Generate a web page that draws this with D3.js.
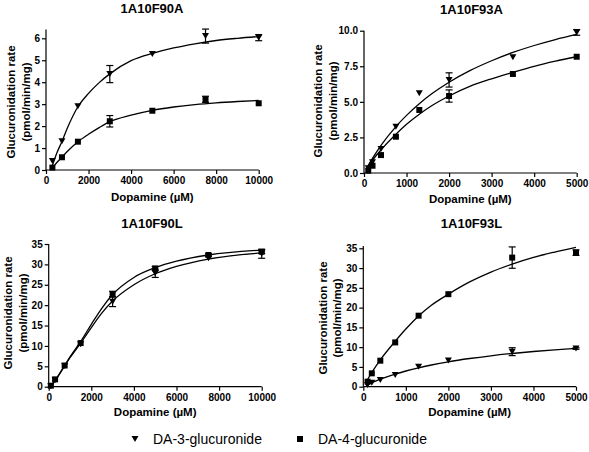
<!DOCTYPE html>
<html><head><meta charset="utf-8">
<script src="https://cdn.jsdelivr.net/npm/d3@7"></script>
<style>
body{margin:0;background:#fff;}
svg{display:block;font-family:"Liberation Sans",Arial,sans-serif;}
.tick text{font-weight:bold;font-size:10px;fill:#000;}
</style></head><body>
<svg id="chart" width="589" height="452"></svg>
<script>
// ---------------- DATA ----------------
const titles = ["1A10F90A", "1A10F93A", "1A10F90L", "1A10F93L"];
const seriesNames = ["DA-3-glucuronide", "DA-4-glucuronide"];
const xAxisTitle = "Dopamine (\u00b5M)";
const yAxisTitle1 = "Glucuronidation rate";
const yAxisTitle2 = "(pmol/min/mg)";

// Panel 1: 1A10F90A
const p1Conc = [300, 750, 1500, 3000, 5000, 7500, 10000];
const p1DA3 = [0.41, 1.31, 2.9, 4.37, 5.28, 6.1, 6.03];
const p1DA3Err = [0, 0, 0, 0.39, 0, 0.32, 0.14];
const p1DA4 = [0.11, 0.58, 1.29, 2.22, 2.7, 3.22, 3.04];
const p1DA4Err = [0, 0, 0, 0.26, 0, 0.14, 0];
const p1CurveX = [300, 500, 750, 1000, 1500, 2000, 2500, 3000, 4000, 5000, 6000, 7000, 8000, 9000, 10000];
const p1CurveDA3 = [0.2, 0.75, 1.3, 1.9, 2.88, 3.49, 3.98, 4.38, 4.98, 5.31, 5.56, 5.75, 5.9, 6.0, 6.08];
const p1CurveDA4 = [0.08, 0.33, 0.58, 0.84, 1.29, 1.63, 1.93, 2.2, 2.5, 2.72, 2.87, 2.98, 3.06, 3.12, 3.17];
const p1YTicks = [0, 1, 2, 3, 4, 5, 6];
const p1XTicks = [0, 2000, 4000, 6000, 8000, 10000];

// Panel 2: 1A10F93A
const p2Conc = [100, 200, 400, 750, 1300, 2000, 3500, 5000];
const p2DA3 = [0.33, 0.75, 1.69, 3.25, 5.6, 6.54, 8.13, 9.88];
const p2DA3Err = [0, 0, 0, 0, 0, 0.5, 0, 0.2];
const p2DA4 = [0.16, 0.51, 1.26, 2.55, 4.43, 5.41, 6.96, 8.17];
const p2DA4Err = [0, 0, 0, 0, 0, 0.43, 0, 0];
const p2CurveX = [50, 100, 200, 400, 750, 1000, 1300, 1600, 2000, 2500, 3000, 3500, 4000, 4500, 5000];
const p2CurveDA3 = [0.27, 0.54, 1.03, 1.94, 3.26, 4.05, 4.87, 5.58, 6.38, 7.21, 7.89, 8.47, 8.96, 9.38, 9.74];
const p2CurveDA4 = [0.24, 0.46, 0.89, 1.62, 2.72, 3.42, 4.13, 4.74, 5.41, 6.1, 6.62, 7.07, 7.5, 7.86, 8.17];
const p2YTicks = [0, 2.5, 5, 7.5, 10];
const p2XTicks = [0, 1000, 2000, 3000, 4000, 5000];

// Panel 3: 1A10F90L
const p3Conc = [100, 300, 750, 1500, 3000, 5000, 7500, 10000];
const p3DA3 = [0.1, 1.6, 5.1, 10.4, 20.85, 27.8, 31.5, 32.6];
const p3DA3Err = [0, 0, 0, 0, 1.2, 1.0, 0, 1.1];
const p3DA4 = [0.25, 1.8, 5.2, 10.7, 22.7, 29.0, 32.3, 33.1];
const p3DA4Err = [0, 0, 0, 0, 0.7, 0.5, 0.3, 0.4];
const p3CurveX = [100, 300, 750, 1000, 1500, 2000, 2500, 3000, 4000, 5000, 6000, 7500, 10000];
const p3CurveDA3 = [0.2, 1.5, 5.1, 7.1, 10.7, 14.5, 18.1, 21.0, 25.0, 27.7, 29.5, 31.3, 32.8];
const p3CurveDA4 = [0.2, 1.5, 5.2, 7.3, 11.1, 15.3, 19.3, 22.6, 26.8, 29.2, 30.8, 32.3, 33.5];
const p3YTicks = [0, 5, 10, 15, 20, 25, 30, 35];
const p3XTicks = [0, 2000, 4000, 6000, 8000, 10000];

// Panel 4: 1A10F93L
const p4Conc = [100, 200, 400, 750, 1300, 2000, 3500, 5000];
const p4DA3 = [0.43, 1.0, 1.7, 2.96, 5.06, 6.6, 8.86, 9.65];
const p4DA3Err = [0, 0, 0, 0, 0, 0, 1.0, 0.2];
const p4DA4 = [1.27, 3.38, 6.58, 11.2, 17.96, 23.4, 32.65, 33.9];
const p4DA4Err = [0, 0, 0, 0, 0, 0, 2.7, 0.7];
const p4CurveX = [60, 100, 200, 400, 750, 1000, 1300, 1600, 2000, 2500, 3000, 3500, 4000, 4500, 5000];
const p4CurveDA3 = [0.32, 0.52, 1.0, 1.89, 3.19, 3.97, 4.79, 5.49, 6.3, 7.13, 7.82, 8.4, 8.9, 9.33, 9.7];
const p4CurveDA4 = [1.0, 1.8, 3.6, 6.8, 11.5, 14.6, 17.9, 20.6, 23.4, 26.5, 29.0, 31.0, 32.7, 34.05, 35.25];
const p4YTicks = [0, 5, 10, 15, 20, 25, 30, 35];
const p4XTicks = [0, 1000, 2000, 3000, 4000, 5000];

// ---------------- LAYOUT ----------------
const panels = [
  {title: titles[0], conc: p1Conc, s: [[p1DA3, p1DA3Err], [p1DA4, p1DA4Err]], cx: p1CurveX, cy: [p1CurveDA3, p1CurveDA4],
   yT: p1YTicks, xT: p1XTicks, yFmt: d3.format("d"), xMax: 10000, yMax: 6, yTop: 6.4,
   x0: 46, x1: 258.7, y0: 170, y1: 38.3, titleX: 152, titleY: 13, xlabY: 201, ylab1: 15, ylab2: 30, ylabY: 102},
  {title: titles[1], conc: p2Conc, s: [[p2DA3, p2DA3Err], [p2DA4, p2DA4Err]], cx: p2CurveX, cy: [p2CurveDA3, p2CurveDA4],
   yT: p2YTicks, xT: p2XTicks, yFmt: d3.format(".1f"), xMax: 5000, yMax: 10, yTop: 10,
   x0: 364, x1: 576.7, y0: 173, y1: 30.7, titleX: 471.5, titleY: 14, xlabY: 203, ylab1: 322, ylab2: 337, ylabY: 101},
  {title: titles[2], conc: p3Conc, s: [[p3DA3, p3DA3Err], [p3DA4, p3DA4Err]], cx: p3CurveX, cy: [p3CurveDA3, p3CurveDA4],
   yT: p3YTicks, xT: p3XTicks, yFmt: d3.format("d"), xMax: 10000, yMax: 35, yTop: 35,
   x0: 48.7, x1: 261.7, y0: 386.7, y1: 244, titleX: 152, titleY: 228, xlabY: 416, ylab1: 12, ylab2: 27, ylabY: 313},
  {title: titles[3], conc: p4Conc, s: [[p4DA3, p4DA3Err], [p4DA4, p4DA4Err]], cx: p4CurveX, cy: [p4CurveDA3, p4CurveDA4],
   yT: p4YTicks, xT: p4XTicks, yFmt: d3.format("d"), xMax: 5000, yMax: 35, yTop: 35.6,
   x0: 363.3, x1: 576, y0: 386.7, y1: 248.3, titleX: 471.5, titleY: 228, xlabY: 416, ylab1: 327, ylab2: 341, ylabY: 318}
];

const svg = d3.select("#chart");
const triPath = "M-3.5,-3L3.5,-3L0,3Z";
const sqPath = "M-3,-3H3V3H-3Z";
const markers = [triPath, sqPath];

panels.forEach(p => {
  const x = d3.scaleLinear().domain([0, p.xMax]).range([p.x0, p.x1]);
  const y = d3.scaleLinear().domain([0, p.yMax]).range([p.y0, p.y1]);
  const g = svg.append("g");

  // axes
  const xa = g.append("g").attr("transform", `translate(0,${p.y0})`)
    .call(d3.axisBottom(x).tickValues(p.xT).tickFormat(d3.format("d")).tickSize(4).tickPadding(3).tickSizeOuter(0));
  const ya = g.append("g").attr("transform", `translate(${p.x0},0)`)
    .call(d3.axisLeft(y).tickValues(p.yT).tickFormat(p.yFmt).tickSize(4).tickPadding(2).tickSizeOuter(0));
  [xa, ya].forEach(a => { a.select(".domain").remove(); a.selectAll("line").attr("stroke", "#000").attr("stroke-width", 1.2); });
  g.append("line").attr("x1", p.x0).attr("x2", x(p.xMax)).attr("y1", p.y0).attr("y2", p.y0).attr("stroke", "#000").attr("stroke-width", 1.2);
  g.append("line").attr("x1", p.x0).attr("x2", p.x0).attr("y1", p.y0).attr("y2", y(p.yTop)).attr("stroke", "#000").attr("stroke-width", 1.2);

  // titles
  g.append("text").attr("x", p.titleX).attr("y", p.titleY).attr("text-anchor", "middle")
    .attr("font-weight", "bold").attr("font-size", "13px").text(p.title);
  g.append("text").attr("x", (p.x0 + p.x1) / 2).attr("y", p.xlabY).attr("text-anchor", "middle")
    .attr("font-weight", "bold").attr("font-size", "11.5px").text(xAxisTitle);
  [[p.ylab1, yAxisTitle1], [p.ylab2, yAxisTitle2]].forEach(([bx, t]) => {
    g.append("text").attr("transform", `translate(${bx},${p.ylabY}) rotate(-90)`).attr("text-anchor", "middle")
      .attr("font-weight", "bold").attr("font-size", "11.5px").text(t);
  });

  // curves
  const line = d3.line().x(d => x(d[0])).y(d => y(d[1])).curve(d3.curveMonotoneX);
  p.cy.forEach(cv => {
    g.append("path").attr("d", line(p.cx.map((v, i) => [v, cv[i]])))
      .attr("fill", "none").attr("stroke", "#000").attr("stroke-width", 1.3);
  });

  // error bars and markers
  p.s.forEach(([vals, errs], si) => {
    vals.forEach((v, i) => {
      const cxp = x(p.conc[i]);
      if (errs[i] > 0) {
        const top = y(v + errs[i]), bot = y(v - errs[i]);
        g.append("line").attr("x1", cxp).attr("x2", cxp).attr("y1", top).attr("y2", bot).attr("stroke", "#000").attr("stroke-width", 1.2);
        [top, bot].forEach(yy => g.append("line").attr("x1", cxp - 3.5).attr("x2", cxp + 3.5).attr("y1", yy).attr("y2", yy).attr("stroke", "#000").attr("stroke-width", 1.2));
      }
      g.append("path").attr("d", markers[si]).attr("transform", `translate(${cxp},${y(v)})`).attr("fill", "#000");
    });
  });
});

// legend
const legend = svg.append("g");
const legPos = [[135, 153], [300, 318]];
seriesNames.forEach((n, i) => {
  legend.append("path").attr("d", markers[i]).attr("transform", `translate(${legPos[i][0]},439)`).attr("fill", "#000");
  legend.append("text").attr("x", legPos[i][1]).attr("y", 443.5).attr("font-size", "14px").text(n);
});
</script>
</body></html>
